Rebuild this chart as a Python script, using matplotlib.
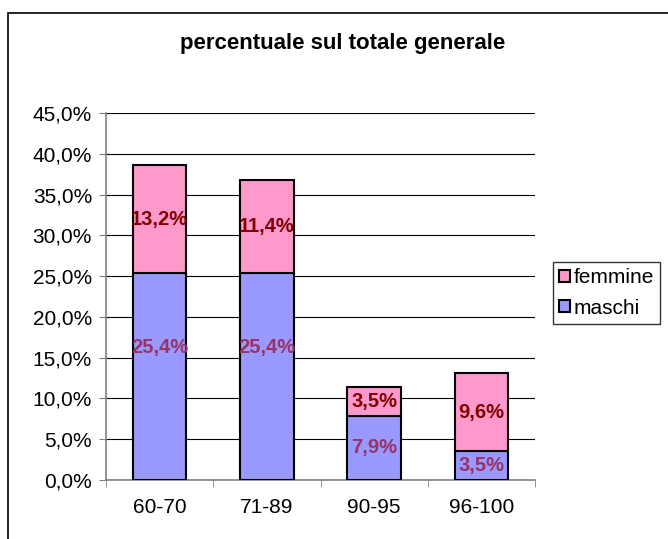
import numpy as np
import matplotlib.pyplot as plt
from matplotlib.patches import Rectangle
from matplotlib.ticker import FuncFormatter, MultipleLocator

categories = ['60-70', '71-89', '90-95', '96-100']
maschi = [25.4, 25.4, 7.9, 3.5]
femmine = [13.2, 11.4, 3.5, 9.6]

# where the maschi labels sit (None = centre of the segment)
maschi_lab_y = [16.2, 16.2, None, None]

plt.rcParams['font.family'] = ['Liberation Sans', 'DejaVu Sans']

fig = plt.figure(figsize=(6.68, 5.39), dpi=100)
ax = fig.add_axes([106 / 668, 59 / 539, 429 / 668, 367 / 539])

# outer chart frame (runs off the right and bottom edge)
fig.patches.append(Rectangle((8 / 668, -0.05), 1.0, 1 - 13 / 539 + 0.05,
                             transform=fig.transFigure, fill=False,
                             edgecolor='black', linewidth=1.2))

x = np.arange(len(categories))
ax.bar(x, maschi, width=0.5, color='#9999FF', edgecolor='black', linewidth=1.5,
       label='maschi', zorder=3)
ax.bar(x, femmine, width=0.5, bottom=maschi, color='#FF99CC', edgecolor='black',
       linewidth=1.5, label='femmine', zorder=3)

for i in range(len(categories)):
    ym = maschi_lab_y[i] if maschi_lab_y[i] is not None else maschi[i] / 2
    ax.text(x[i], ym, f'{maschi[i]:.1f}%'.replace('.', ','), ha='center', va='center',
            color='#993366', fontsize=14.5, fontweight='bold', zorder=4)
    ax.text(x[i], maschi[i] + femmine[i] / 2, f'{femmine[i]:.1f}%'.replace('.', ','),
            ha='center', va='center', color='#800000', fontsize=14.5,
            fontweight='bold', zorder=4)

ax.set_xlim(-0.5, len(categories) - 0.5)
ax.set_ylim(0, 45)
ax.yaxis.set_major_locator(MultipleLocator(5))
ax.yaxis.set_major_formatter(FuncFormatter(lambda v, p: f'{v:.1f}%'.replace('.', ',')))
ax.set_xticks(x)
ax.set_xticklabels(categories)
ax.set_xticks(np.arange(-0.5, len(categories)), minor=True)
ax.tick_params(axis='x', which='major', length=0, pad=13, labelsize=15)
ax.tick_params(axis='x', which='minor', length=5, color='#808080', direction='out')
ax.tick_params(axis='y', length=5, color='#808080', labelsize=15, pad=5)

ax.grid(axis='y', color='black', linewidth=0.8, zorder=0)
ax.set_axisbelow(True)
for s in ['top', 'right']:
    ax.spines[s].set_visible(False)
for s in ['left', 'bottom']:
    ax.spines[s].set_color('#808080')
    ax.spines[s].set_linewidth(1.2)

fig.text(343 / 668, 1 - 44 / 539, 'percentuale sul totale generale', ha='center',
         va='center', fontsize=16, fontweight='bold')

handles, labels = ax.get_legend_handles_labels()
leg = fig.legend(handles[::-1], labels[::-1], loc='upper left',
                 bbox_to_anchor=(553 / 668, 1 - 262 / 539), fontsize=15,
                 frameon=True, fancybox=False, edgecolor='black',
                 handlelength=0.5, handleheight=0.5, handletextpad=0.2,
                 borderpad=0.3, labelspacing=0.55, borderaxespad=0)
leg.get_frame().set_linewidth(1.0)

fig.savefig('out.png', dpi=100)
